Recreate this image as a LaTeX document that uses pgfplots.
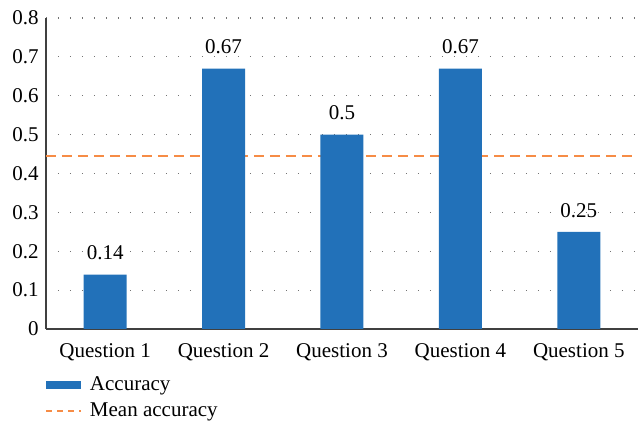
\documentclass[border=0pt]{standalone}
\usepackage{pgfplots}
\pgfplotsset{compat=1.18}
\usepackage{fontspec}
\setmainfont{Liberation Serif}
\definecolor{barblue}{RGB}{34,113,185}
\definecolor{meanorange}{RGB}{246,140,70}
\begin{document}
\fontsize{10.5}{12}\selectfont
\begin{tikzpicture}
\path[use as bounding box] (-23pt,-46pt) rectangle (296pt,164.5pt);
\begin{axis}[
  at={(0pt,0pt)}, anchor=south west,
  scale only axis,
  width=296pt, height=155.5pt,
  xmin=-0.5, xmax=4.5,
  ymin=0, ymax=0.8,
  ytick={0,0.1,...,0.8},
  yticklabel style={/pgf/number format/fixed,/pgf/number format/precision=1},
  xtick={0,1,2,3,4},
  xticklabels={Question 1,Question 2,Question 3,Question 4,Question 5},
  major tick length=0pt,
  axis lines*=left,
  axis line style={draw=black!75, line width=0.6pt, -},
  ymajorgrids,
  grid style={draw=black!55, line width=0.6pt, dash pattern=on 0.6pt off 5.4pt},
  /pgf/number format/assume math mode=true,
  tick label style={font=\fontsize{10.5}{12}\selectfont},
  xticklabel style={yshift=-3.5pt},
  legend style={draw=none, fill=none, at={(0,-0.125)}, anchor=north west,
    xshift=-3.5pt,
    font=\fontsize{10.5}{12}\selectfont, row sep=0.5pt,
    legend cell align=left},
  clip=false,
]
\addplot[draw=meanorange, line width=1pt, dash pattern=on 5pt off 3pt, forget plot, mark=none]
  coordinates {(-0.5,0.446) (4.5,0.446)};
\addplot[ybar, bar width=21.5pt, fill=barblue, draw=none,
  nodes near coords, point meta=explicit symbolic,
  every node near coord/.append style={font=\fontsize{10.5}{12}\selectfont, yshift=3.5pt},
  legend image code/.code={\fill[barblue] (0pt,-2pt) rectangle (17.5pt,2pt);}]
  coordinates {(0,0.14)[0.14] (1,0.67)[0.67] (2,0.5)[0.5] (3,0.67)[0.67] (4,0.25)[0.25]};
\addlegendentry{\hspace{2pt}Accuracy}
\addlegendimage{legend image code/.code={\draw[meanorange, line width=0.8pt, dash pattern=on 3pt off 2.5pt] (0pt,0pt) -- (17.5pt,0pt);}}
\addlegendentry{\hspace{2pt}Mean accuracy}
\end{axis}
\end{tikzpicture}
\end{document}
